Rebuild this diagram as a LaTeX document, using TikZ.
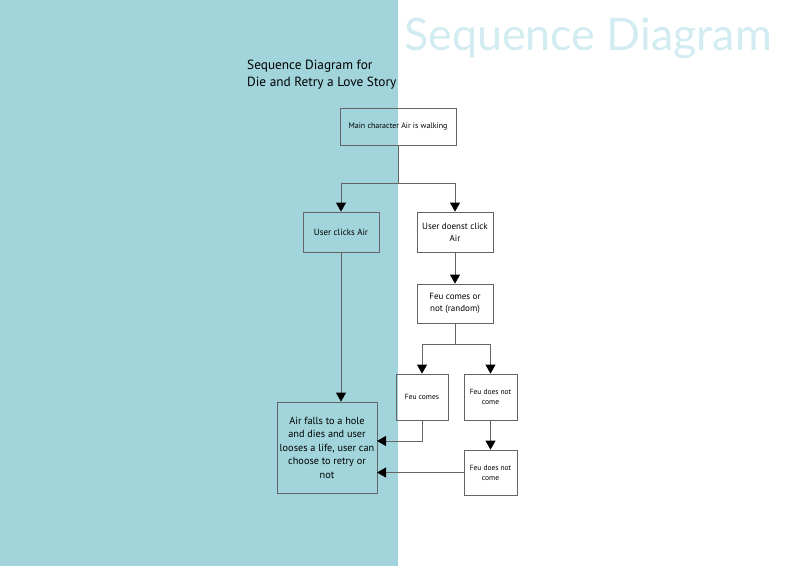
\documentclass[tikz,border=0pt]{standalone}
\usepackage{fontspec}
\setmainfont{PT Sans}
\newfontfamily\headfont{Lato}
\usepackage{tikz}
\usetikzlibrary{shapes,arrows.meta}
\definecolor{panel}{RGB}{161,213,219}
\definecolor{pale}{RGB}{210,236,241}
\definecolor{wire}{RGB}{100,100,100}

\begin{document}
\begin{tikzpicture}[x=1pt,y=-1pt,
      state/.style={draw=wire,line width=0.8pt,inner sep=1pt,align=center,
        font=\fontsize{9}{12}\selectfont},
      arr/.style={draw=wire,line width=0.8pt,-{Triangle[width=10pt,length=9pt,color=black]}},
      link/.style={draw=wire,line width=0.8pt}]
    \useasboundingbox (0,0) rectangle (800,566);
    \fill[panel] (0,0) rectangle (398,566);
    % titles
    \node (bigtitle) [anchor=base west,inner sep=0,text=pale,
      font=\headfont\fontsize{44.8}{46}\selectfont] at (404,50) {Sequence Diagram};
    \node (subtitle) [anchor=north west,inner sep=0,align=left,
      font=\fontsize{13.3}{17}\selectfont] at (247,60)
      {Sequence Diagram for\\Die and Retry a Love Story};
    % boxes
    \node (walk) [state,minimum width=116pt,minimum height=37pt,
      font=\fontsize{8}{10}\selectfont] at (398,126.5) {Main character Air is walking};
    \node (clicks) [state,minimum width=76pt,minimum height=40pt] at (341,232) {User clicks Air};
    \node (noclick) [state,minimum width=76pt,minimum height=40pt] at (455,232) {User doenst click\\Air};
    \node (random) [state,minimum width=76pt,minimum height=39pt] at (455,303.5) {Feu comes or\\not (random)};
    \node (comes) [state,minimum width=52pt,minimum height=46pt,
      font=\fontsize{7.5}{10}\selectfont] at (422,397) {Feu comes};
    \node (notone) [state,minimum width=53pt,minimum height=46pt,
      font=\fontsize{7.5}{10}\selectfont] at (490.5,397) {Feu does not\\come};
    \node (nottwo) [state,minimum width=53pt,minimum height=45pt,
      font=\fontsize{7.5}{10}\selectfont] at (490.5,472.5) {Feu does not\\come};
    \node (falls) [state,minimum width=100pt,minimum height=91pt,
      font=\fontsize{10.3}{13.5}\selectfont] at (327,447.5)
      {Air falls to a hole\\and dies and user\\looses a life, user can\\choose to retry or\\not};
    % forks
    \coordinate (forkA) at (398,183);
    \coordinate (forkB) at (455,344);
    \coordinate (hitA) at (377,441);
    \coordinate (hitB) at (377,472.5);
    % connectors
    \draw[link] (walk) -- (forkA);
    \draw[arr] (forkA) -| (clicks);
    \draw[arr] (forkA) -| (noclick);
    \draw[arr] (clicks) -- (clicks |- falls.north);
    \draw[arr] (noclick) -- (random);
    \draw[link] (random) -- (forkB);
    \draw[arr] (forkB) -| (comes);
    \draw[arr] (forkB) -| (notone);
    \draw[arr] (notone) -- (nottwo);
    \draw[arr] (comes) |- (hitA);
    \draw[arr] (nottwo) -- (hitB);
  \end{tikzpicture}
\end{document}
